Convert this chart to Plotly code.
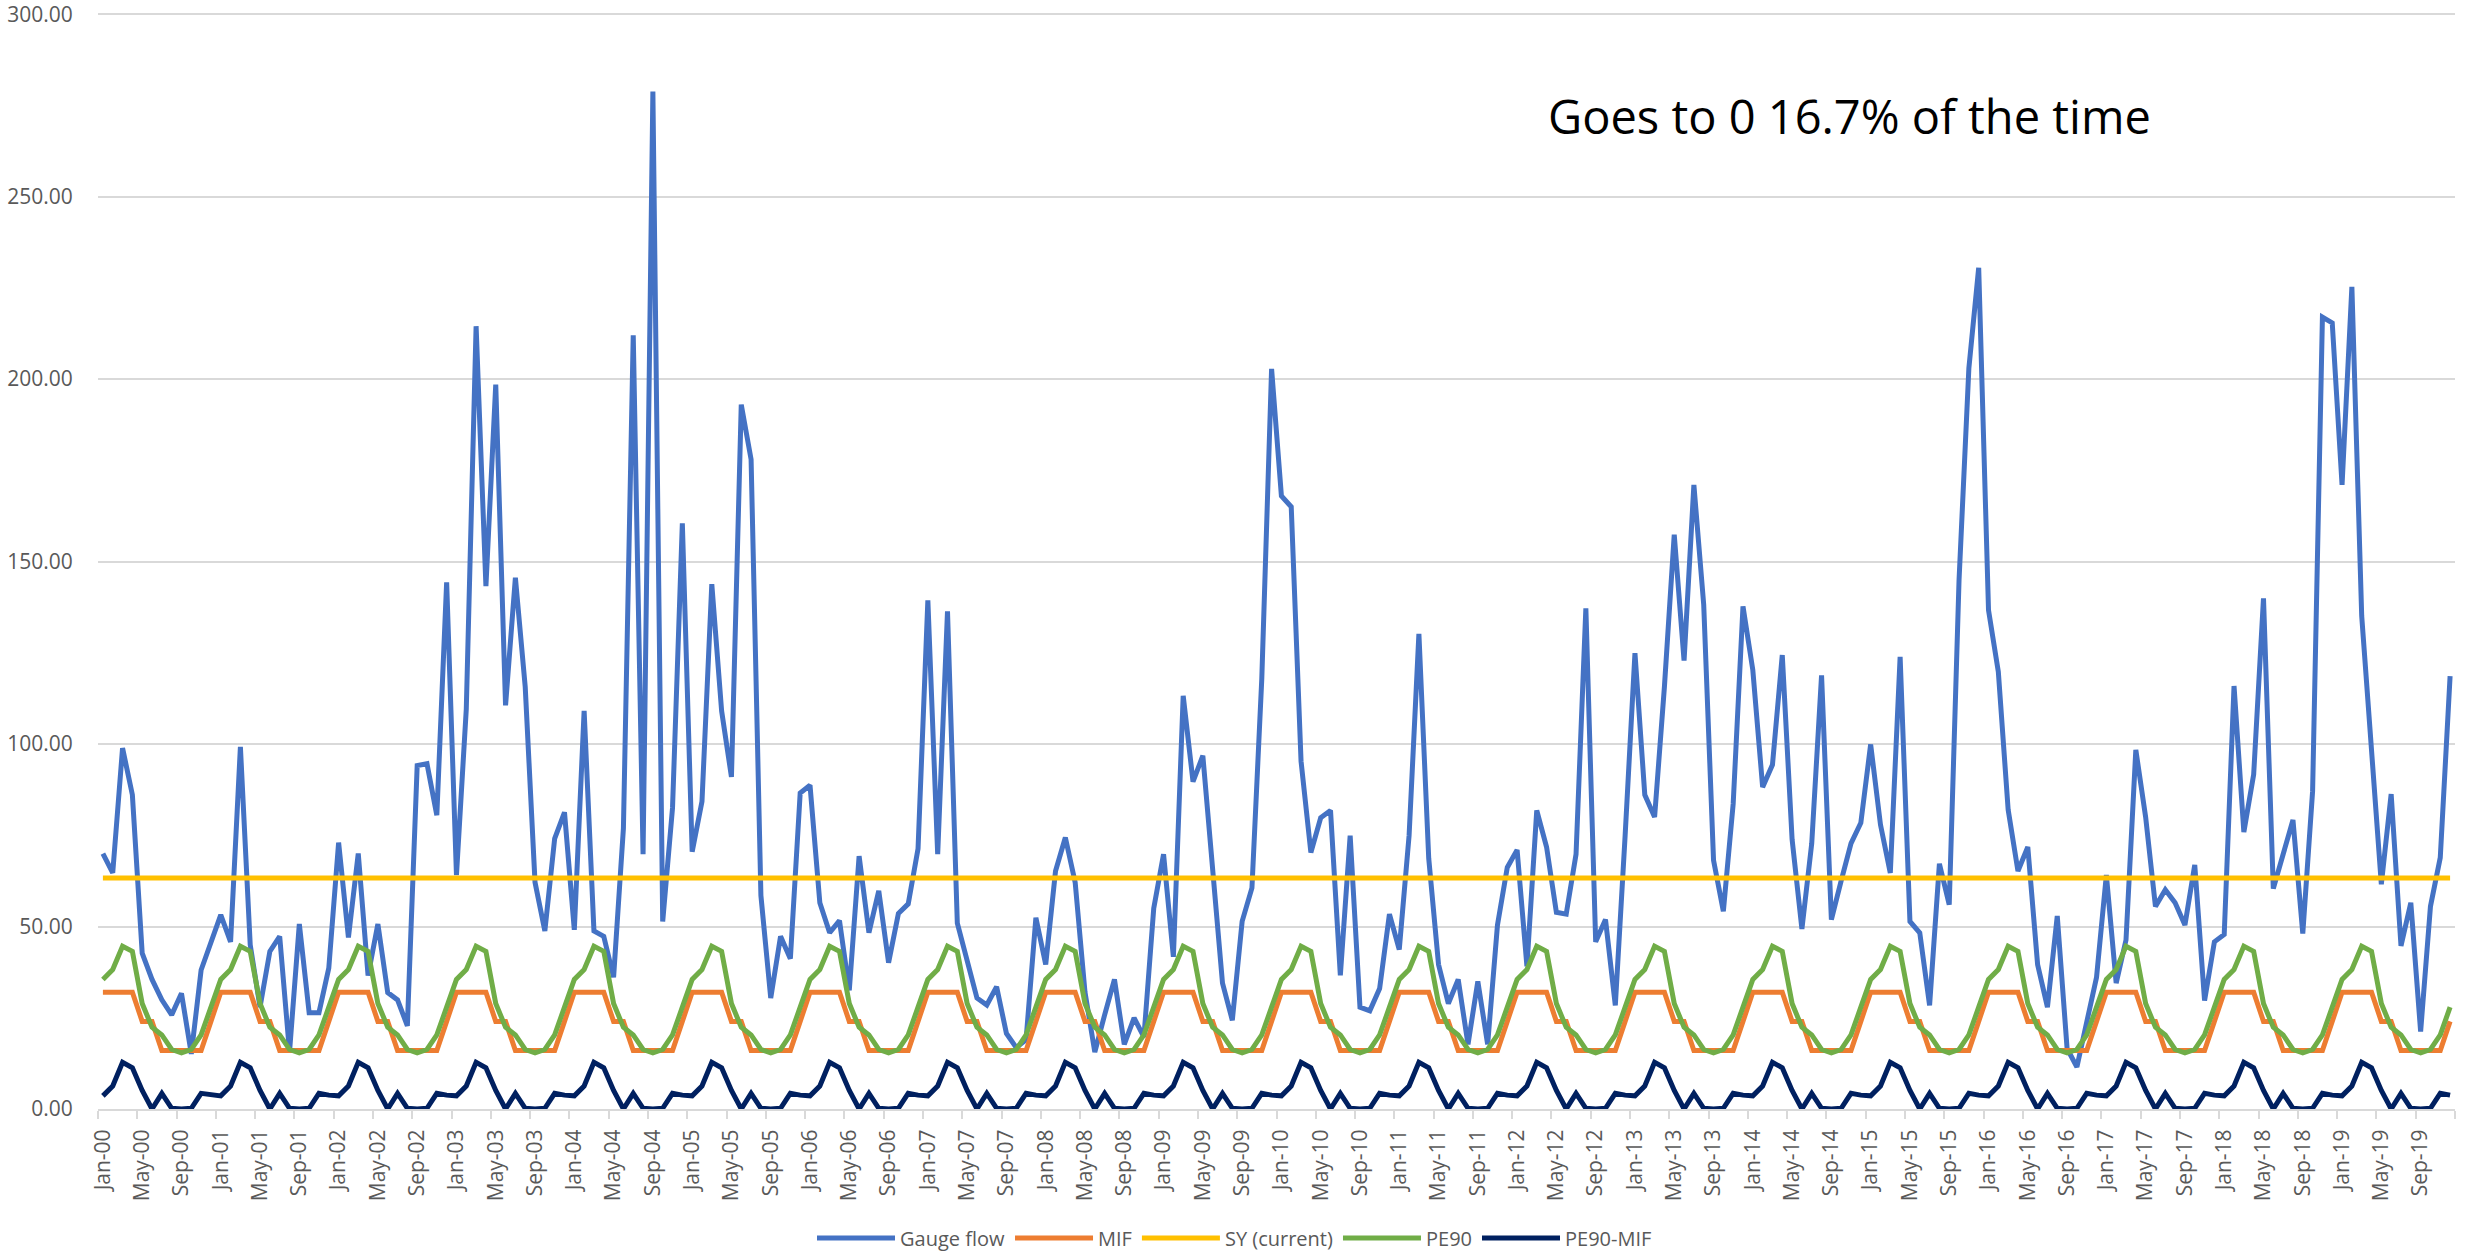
import plotly.graph_objects as go

# ---- data (monthly, Jan-2000 .. Dec-2019) ----
month_names = ["Jan", "Feb", "Mar", "Apr", "May", "Jun",
               "Jul", "Aug", "Sep", "Oct", "Nov", "Dec"]
years = list(range(2000, 2020))
date_labels = [m + "-" + str(y)[2:] for y in years for m in month_names]

gauge_flow = [
    70.0, 64.7, 98.9, 86.1, 42.7, 35.5, 29.9, 25.8, 31.7, 15.1, 38.1, 45.8,      # 2000
    53.2, 45.8, 99.2, 45.0, 27.9, 43.2, 47.3, 15.6, 50.7, 26.4, 26.4, 38.6,      # 2001
    73.0, 47.0, 70.0, 36.6, 50.7, 31.9, 29.9, 22.8, 94.1, 94.6, 80.5, 144.3,     # 2002
    64.1, 109.6, 214.5, 143.3, 198.5, 110.6, 145.6, 115.7, 62.1, 48.8, 74.1, 81.3,  # 2003
    49.1, 109.1, 48.8, 47.3, 36.1, 76.9, 212.0, 69.8, 278.8, 51.4, 82.5, 160.5,  # 2004
    70.5, 84.3, 143.8, 109.1, 91.0, 193.0, 178.0, 58.5, 30.4, 47.3, 41.2, 86.6,  # 2005
    88.7, 56.5, 48.3, 51.6, 32.5, 69.3, 48.3, 59.8, 40.1, 53.6, 56.2, 71.3,      # 2006
    139.4, 69.8, 136.4, 50.9, 40.7, 30.4, 28.5, 33.5, 20.7, 16.8, 19.0, 52.4,    # 2007
    39.6, 65.2, 74.4, 62.1, 32.0, 15.6, 25.8, 35.5, 17.7, 25.0, 19.7, 55.0,      # 2008
    69.8, 41.7, 113.2, 89.7, 96.8, 66.7, 34.5, 24.3, 51.4, 60.6, 117.8, 202.8,   # 2009
    168.0, 165.0, 95.3, 70.3, 79.8, 81.8, 36.6, 74.9, 27.9, 26.9, 33.0, 53.4,    # 2010
    43.7, 74.9, 130.2, 68.7, 39.6, 28.9, 35.5, 17.7, 35.0, 17.7, 50.4, 66.2,     # 2011
    71.0, 39.1, 81.8, 71.8, 53.9, 53.4, 69.8, 137.2, 45.8, 51.9, 28.4, 75.0,     # 2012
    124.9, 86.1, 80.0, 115.7, 157.4, 122.9, 171.0, 138.2, 68.2, 54.2, 83.6, 137.7,  # 2013
    120.3, 88.2, 94.3, 124.4, 73.9, 49.3, 72.8, 118.8, 51.9, 62.6, 72.8, 78.4,   # 2014
    99.9, 77.9, 64.7, 123.9, 51.4, 48.3, 28.4, 67.2, 56.0, 145.0, 203.0, 230.5,  # 2015
    136.7, 119.8, 82.0, 65.2, 71.8, 39.6, 27.9, 52.9, 16.6, 11.5, 23.8, 36.1,    # 2016
    64.1, 34.5, 46.3, 98.4, 80.0, 55.5, 60.1, 56.5, 50.4, 66.9, 29.7, 45.8,      # 2017
    47.8, 115.9, 75.9, 91.7, 139.9, 60.4, 69.8, 79.2, 48.1, 87.1, 217.0, 215.4,  # 2018
    171.0, 225.3, 135.1, 99.4, 61.6, 86.3, 44.7, 56.5, 21.2, 55.5, 68.9, 118.6,  # 2019
]

# seasonal series repeat the same twelve monthly values every year
mif_monthly = [32.0, 32.0, 32.0, 32.0, 24.0, 24.0, 16.0, 16.0, 16.0, 16.0, 16.0, 24.0]
pe90_monthly = [35.5, 38.2, 44.6, 43.2, 28.9, 22.4, 20.3, 16.3, 15.4, 16.3, 20.3, 27.9]
pe90_mif_monthly = [3.6, 6.3, 12.8, 11.3, 5.1, 0.0, 4.3, 0.2, 0.0, 0.2, 4.3, 3.8]
sy_current = 63.3

mif = mif_monthly * len(years)
pe90 = pe90_monthly * len(years)
pe90_mif = pe90_mif_monthly * len(years)
sy = [sy_current] * len(date_labels)

x = list(range(len(date_labels)))

GRID = "#D9D9D9"
TEXT = "#595959"
FONT = "Open Sans"

fig = go.Figure()
series = [
    ("Gauge flow", gauge_flow, "#4472C4"),
    ("MIF", mif, "#ED7D31"),
    ("SY (current)", sy, "#FFC000"),
    ("PE90", pe90, "#70AD47"),
    ("PE90-MIF", pe90_mif, "#002060"),
]
for name, vals, col in series:
    fig.add_trace(go.Scatter(x=x, y=vals, name=name, mode="lines",
                             line=dict(color=col, width=5)))

fig.add_annotation(text="Goes to 0 16.7% of the time", xref="paper", yref="paper",
                   x=0.743, y=0.905, xanchor="center", yanchor="middle",
                   showarrow=False,
                   font=dict(family=FONT, size=47, color="#000000"))

fig.update_xaxes(
    range=[-0.5, len(x) - 0.5], automargin=False,
    tickmode="array", tickvals=x[::4], ticktext=date_labels[::4],
    tickangle=-90, ticks="", ticklabelstandoff=10,
    tickfont=dict(family=FONT, size=21, color=TEXT),
    showgrid=False, zeroline=False,
    showline=True, linecolor=GRID, linewidth=2,
    minor=dict(tick0=-0.5, dtick=4, ticks="outside", ticklen=8,
               tickcolor=GRID, tickwidth=2, showgrid=False),
)
fig.update_yaxes(
    range=[0, 300.6], automargin=False, ticklabeloverflow="allow",
    tickmode="array", tickvals=[0, 50, 100, 150, 200, 250, 300],
    tickformat=".2f",
    tickfont=dict(family=FONT, size=21, color=TEXT),
    showgrid=True, gridcolor=GRID, gridwidth=2,
    zeroline=False, showline=False,
    ticks="outside", ticklen=20, tickcolor="rgba(0,0,0,0)",
)
fig.update_layout(
    width=2469, height=1252,
    margin=dict(l=98, r=14, t=12, b=143),
    plot_bgcolor="white", paper_bgcolor="white",
    font=dict(family=FONT, color=TEXT),
    showlegend=True,
    legend=dict(orientation="h", xref="container", yref="container",
                x=0.5, xanchor="center", y=0.0112, yanchor="middle",
                font=dict(family=FONT, size=20, color=TEXT),
                itemwidth=78, traceorder="normal"),
)

# drop the default 8px page margin so the figure fills the window exactly
fig.write_html("out.html", config={"displayModeBar": False},
               post_script="document.body.style.margin='0';")
